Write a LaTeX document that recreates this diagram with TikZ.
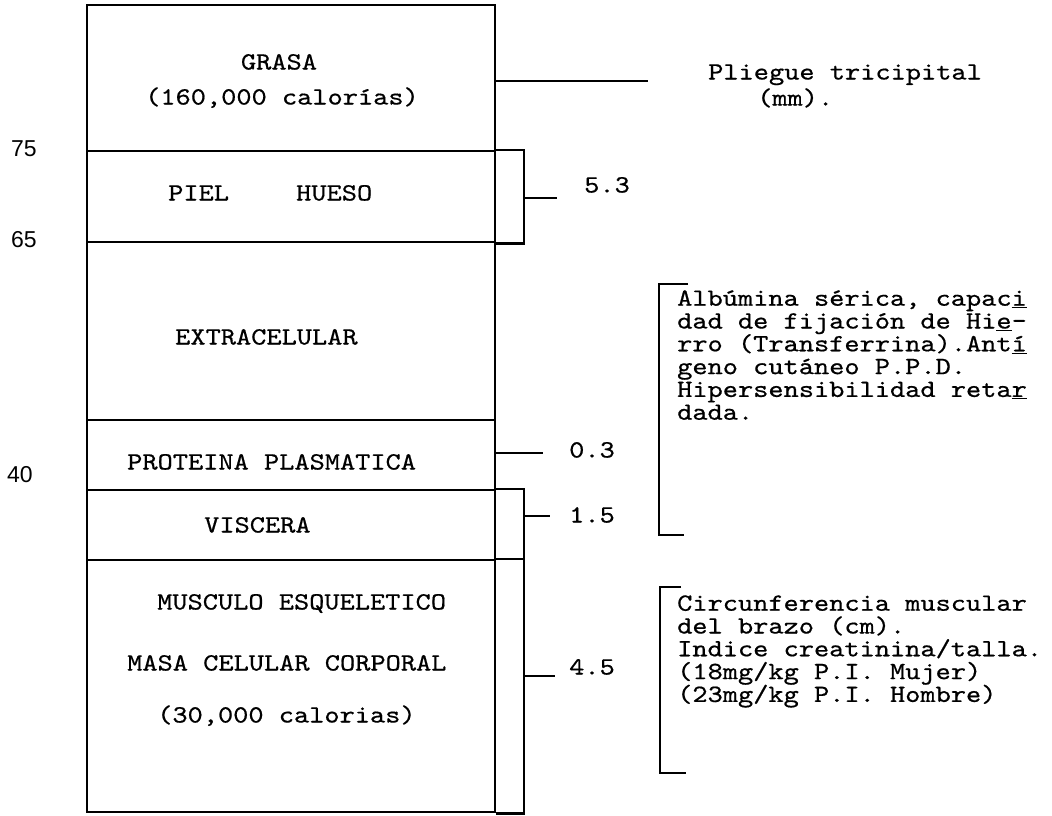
\documentclass[tikz,border=0pt]{standalone}
\usepackage{fontspec}
\newfontfamily\twfont{lmmono10-regular.otf}[FakeStretch=1.17,FakeBold=0.6]
\newfontfamily\numfont{Liberation Sans}
\newcommand\twset{\twfont\fontsize{24.75}{22.8}\selectfont\lineskiplimit-50pt\relax}
\begin{document}
\begin{tikzpicture}[x=1pt,y=-1pt,
  comp/.style={draw,rectangle,inner sep=0pt,minimum width=408pt,line width=2.5pt},
  ln/.style={line width=2.5pt},
  tw/.style={font=\twset,inner sep=0pt},
  num/.style={font=\numfont\fontsize{23}{23}\selectfont,inner sep=0pt,anchor=base west},
  ]
\useasboundingbox (0,0) rectangle (1052,815);
% compartments
\node[comp,minimum height=146pt] (grasa) at (291,78) {};
\node[comp,minimum height=91pt]  (piel)  at (291,196.5) {};
\node[comp,minimum height=178pt] (extra) at (291,331) {};
\node[comp,minimum height=70pt]  (prot)  at (291,455) {};
\node[comp,minimum height=70pt]  (visc)  at (291,525) {};
\node[comp,minimum height=252pt] (musc)  at (291,686) {};
% side brackets
\coordinate (rb) at (524,0);
\draw[ln] (piel.north east) -- (piel.north east -| rb) -- (piel.south east -| rb) -- (piel.south east);
\draw[ln] (visc.north east) -- (visc.north east -| rb) -- (musc.south east -| rb) -- (musc.south east);
\draw[ln] (musc.north east) -- (musc.north east -| rb);
% ticks
\coordinate (tg) at (648,81);  \draw[ln] (tg -| grasa.east) -- (tg);
\coordinate (tp) at (557,198); \draw[ln] (tp -| rb) -- (tp);
\coordinate (tpr) at (543,453); \draw[ln] (tpr -| prot.east) -- (tpr);
\coordinate (tv) at (550,516); \draw[ln] (tv -| rb) -- (tv);
\coordinate (tm) at (555,676); \draw[ln] (tm -| rb) -- (tm);
% texts inside
\node[tw,anchor=base] (tgrasa) at (279,69.5) {GRASA};
\node[tw,anchor=base] (tgcal) at (282,104.5) {(160,000 calorías)};
\node[tw,anchor=base west] (tpiel) at (168,200.5) {PIEL};
\node[tw,anchor=base west] (thueso) at (296,200.5) {HUESO};
\node[tw,anchor=base west] (textra) at (175,344.5) {EXTRACELULAR};
\node[tw,anchor=base west] (tprot) at (127,469.5) {PROTEINA PLASMATICA};
\node[tw,anchor=base west] (tvisc) at (204,532.5) {VISCERA};
\node[tw,anchor=base west] (tmusc) at (157,609.5) {MUSCULO ESQUELETICO};
\node[tw,anchor=base west] (tmasa) at (127,670.5) {MASA CELULAR CORPORAL};
\node[tw,anchor=base west] (tmcal) at (157,722.5) {(30,000 calorias)};
% left numbers
\node[num] (n75) at (11,156) {75};
\node[num] (n65) at (11,247) {65};
\node[num] (n40) at (7,482) {40};
% right values
\node[tw,anchor=base west] (v53) at (584,192.5) {5.3};
\node[tw,anchor=base west] (v03) at (569,457.5) {0.3};
\node[tw,anchor=base west] (v15) at (569,522.5) {1.5};
\node[tw,anchor=base west] (v45) at (569,674.5) {4.5};
\node[tw,anchor=base west] (plg) at (708,79.5) {Pliegue tricipital};
\node[tw,anchor=base west] (plmm) at (757,105.5) {(mm).};
% right brackets
\coordinate (b1t) at (688,284); \coordinate (b1b) at (684,535);
\draw[ln] (b1t) -- (659,284) -- (659,535) -- (b1b);
\coordinate (b2t) at (681,587); \coordinate (b2b) at (686,773);
\draw[ln] (b2t) -- (660,587) -- (660,773) -- (b2b);
\node[tw,anchor=north west,align=left] (txt1) at (677,285.5) {\rule{0pt}{20pt}Albúmina sérica, capac\underline{i}\\dad de fijación de Hi\underline{e}-\\rro (Transferrina).Ant\underline{í}\\geno cutáneo P.P.D.\\Hipersensibilidad reta\underline{r}\\dada.};
\node[tw,anchor=north west,align=left] (txt2) at (677,590.5) {\rule{0pt}{20pt}Circunferencia muscular\\del brazo (cm).\\Indice creatinina/talla.\\(18mg/kg P.I. Mujer)\\(23mg/kg P.I. Hombre)};
\end{tikzpicture}
\end{document}
